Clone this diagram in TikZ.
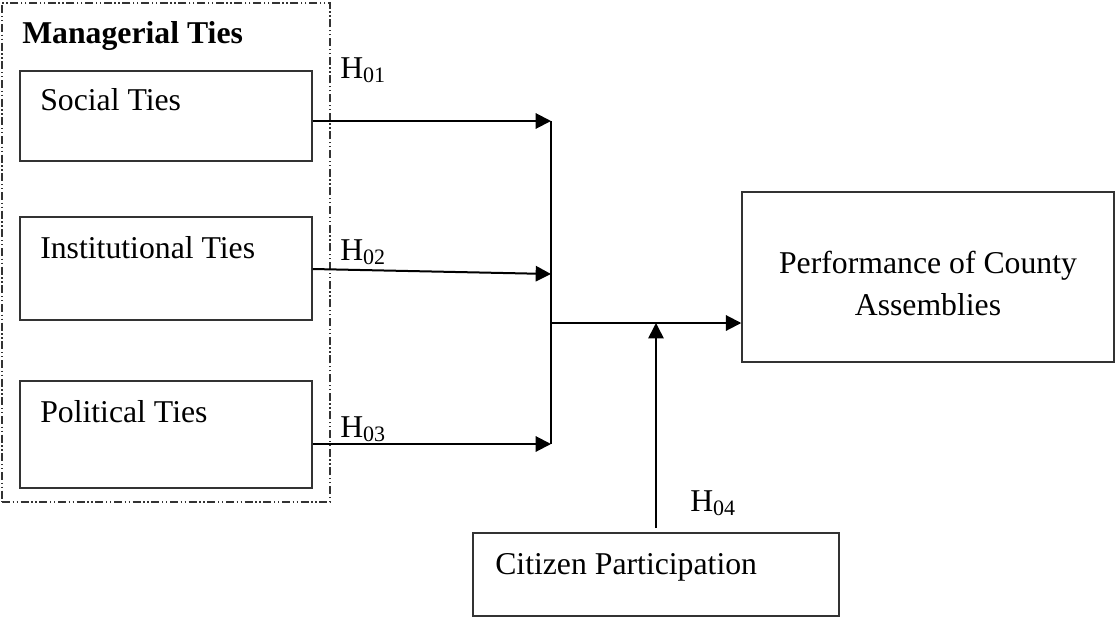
\documentclass[tikz,border=0pt]{standalone}
\usepackage{fontspec}
\setmainfont{Liberation Serif}
\usetikzlibrary{arrows.meta,fit}
\newcommand\hyplbl[1]{H\raisebox{-0.3ex}{\fontsize{16.5}{18}\selectfont #1}}
\begin{document}
\begin{tikzpicture}[x=0.75pt,y=-0.75pt,
  box/.style={draw=black!80,line width=1.1pt,inner sep=0pt},
  grp/.style={draw=black!80,line width=0.9pt,inner sep=0pt,
    dash pattern=on 6pt off 2pt on 1pt off 2pt on 1pt off 2pt},
  txt/.style={anchor=base west,inner sep=0pt,font=\fontsize{23.8}{31.5}\selectfont},
  arr/.style={line width=1.5pt,-{Triangle[length=11.5pt,width=11.5pt]}},
  ln/.style={line width=1.5pt}]
\useasboundingbox (0,0) rectangle (1115,618);
% group
\node[grp,fit={(2,3) (330,502)}] (group) {};
\node[txt,font=\fontsize{23.8}{31.5}\selectfont\bfseries] (mtitle) at (22,43) {Managerial Ties};
% boxes
\node[box,fit={(20,71) (312,161)}] (social) {};
\node[txt] (socialt) at (40,110) {Social Ties};
\node[box,fit={(20,217) (312,320)}] (inst) {};
\node[txt] (instt) at (40,258) {Institutional Ties};
\node[box,fit={(20,381) (312,488)}] (pol) {};
\node[txt] (polt) at (40,422) {Political Ties};
\node[box,fit={(742,192) (1114,362)}] (perf) {};
\node[anchor=base,inner sep=0pt,align=center,font=\fontsize{23.8}{31.5}\selectfont] (perft) at (928,315) {Performance of County\\Assemblies};
\node[box,fit={(473,533) (839,616)}] (cit) {};
\node[txt] (citt) at (495,574) {Citizen Participation};
% coordinates
\coordinate (j1) at (551,121);
\coordinate (j2) at (551,274);
\coordinate (j3) at (551,444);
\coordinate (jm) at (551,323);
\coordinate (mod) at (656,323);
\coordinate (cstart) at (656,528);
% connectors
\draw[arr] (social.east |- 0,121) -- (j1);
\draw[arr] (inst.east |- 0,269) -- (j2);
\draw[arr] (pol.east |- 0,444) -- (j3);
\draw[ln] (j1) -- (j3);
\draw[arr] (jm) -- (perf.west |- jm);
\draw[arr,line width=1.2pt] (cstart) -- (mod);
% labels
\node[txt] (h1) at (340,78) {\hyplbl{01}};
\node[txt] (h2) at (340,260) {\hyplbl{02}};
\node[txt] (h3) at (340,437) {\hyplbl{03}};
\node[txt] (h4) at (690,511) {\hyplbl{04}};
\end{tikzpicture}
\end{document}
